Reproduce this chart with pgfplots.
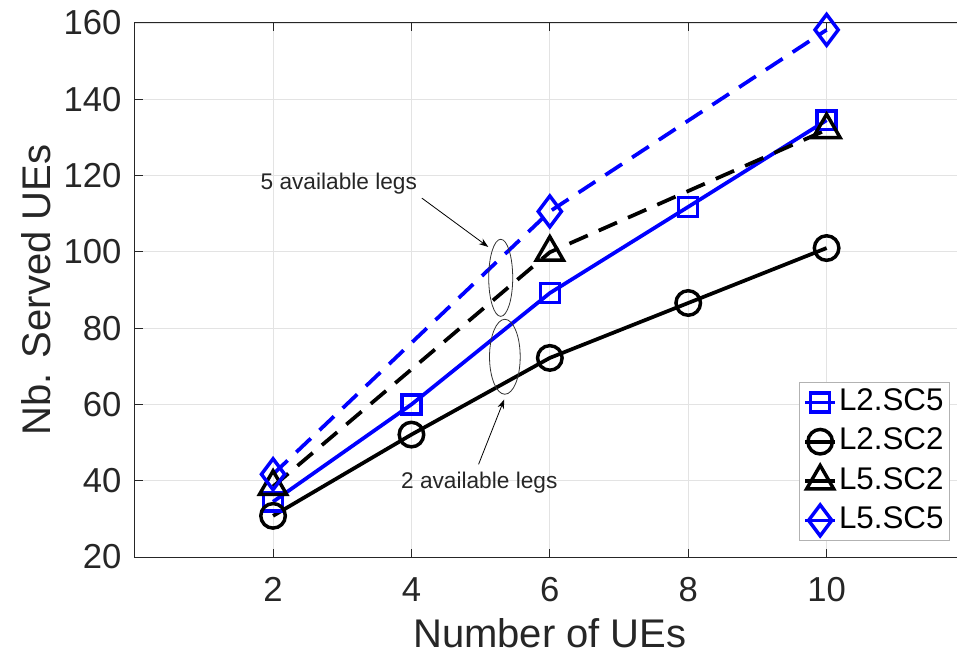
\documentclass[border=0pt]{standalone}
\usepackage{fontspec}
\setmainfont{Liberation Sans}
\usepackage{pgfplots}
\pgfplotsset{compat=1.18}
\usetikzlibrary{arrows.meta}
\definecolor{mblue}{RGB}{0,0,255}
\definecolor{axgray}{RGB}{38,38,38}
\begin{document}
\begin{tikzpicture}
\begin{axis}[
  at={(0pt,0pt)}, anchor=south west,
  scale only axis, width=622.7pt, height=400.5pt,
  xmin=0, xmax=12, ymin=20, ymax=160,
  xtick={2,4,6,8,10}, ytick={20,40,...,160},
  grid=major, major grid style={gray!22, line width=0.6pt},
  axis line style={axgray, line width=0.75pt},
  tick style={axgray, line width=0.75pt},
  tick align=inside, major tick length=6pt,
  clip=false,
  /pgf/number format/assume math mode=true,
  ticklabel style={font=\fontsize{26}{30}\selectfont, text=axgray, inner sep=0pt},
  xticklabel shift=15pt, yticklabel shift=9.75pt,
  legend style={at={(rel axis cs:0.982,0.328)}, anchor=north east,
    draw=gray!60, line width=0.75pt, fill=white,
    font=\fontsize{23.5}{26}\selectfont,
    inner xsep=3pt, inner ysep=2.5pt, row sep=4.5pt,
    nodes={inner sep=1.5pt, text height=17pt, text depth=5pt}},
  legend cell align=left,
  legend image code/.code={\draw[mark repeat=2,mark phase=2,solid] plot coordinates {(0pt,0pt) (11.25pt,0pt) (22.5pt,0pt)};},
  every axis plot/.append style={line width=2.8pt, mark options={solid, line width=2.6pt}},
]
\addplot[mblue, mark=square, mark size=7.1pt] coordinates {(2,34.5) (4,60) (6,89.2) (8,111.8) (10,134.5)};
\addlegendentry{L2.SC5}
\addplot[black, mark=o, mark size=9.2pt] coordinates {(2,30.8) (4,52.1) (6,72.2) (8,86.6) (10,101)};
\addlegendentry{L2.SC2}
\addplot[black, dash pattern=on 15pt off 9pt, mark=triangle, mark size=11.7pt] coordinates {(2,38.5) (6,99.9) (10,132)};
\addlegendentry{L5.SC2}
\addplot[mblue, dash pattern=on 15pt off 9pt, mark=diamond, mark size=11.6pt] coordinates {(2,41.7) (6,110.6) (10,158.2)};
\addlegendentry{L5.SC5}

\draw[black!80, line width=0.6pt] (axis cs:5.29,93.2) ellipse [x radius=9pt, y radius=28.9pt];
\draw[black!80, line width=0.6pt] (axis cs:5.35,72.5) ellipse [x radius=11.5pt, y radius=28.1pt];
\draw[black, line width=0.6pt, -{Stealth[length=7pt, width=5pt]}] (axis cs:4.15,114.1) -- (axis cs:5.11,101.3);
\draw[black, line width=0.6pt, -{Stealth[length=7pt, width=5pt]}] (axis cs:4.97,44.3) -- (axis cs:5.34,61.3);
\node[font=\fontsize{17}{20}\selectfont, text=axgray, inner sep=0pt] at (axis cs:2.95,117.9) {5 available legs};
\node[font=\fontsize{17}{20}\selectfont, text=axgray, inner sep=0pt] at (axis cs:4.98,39.5) {2 available legs};
\end{axis}
\node[font=\fontsize{30}{34}\selectfont, text=axgray, anchor=base, rotate=90, inner sep=0pt] at (-63.5pt,200.25pt) {Nb. Served UEs};
\node[font=\fontsize{30}{34}\selectfont, text=axgray, anchor=base, inner sep=0pt] at (311.35pt,-67.5pt) {Number of UEs};
\pgfresetboundingbox
\useasboundingbox (-101pt,-74.25pt) rectangle (616.7pt,417.75pt);
\end{tikzpicture}
\end{document}
